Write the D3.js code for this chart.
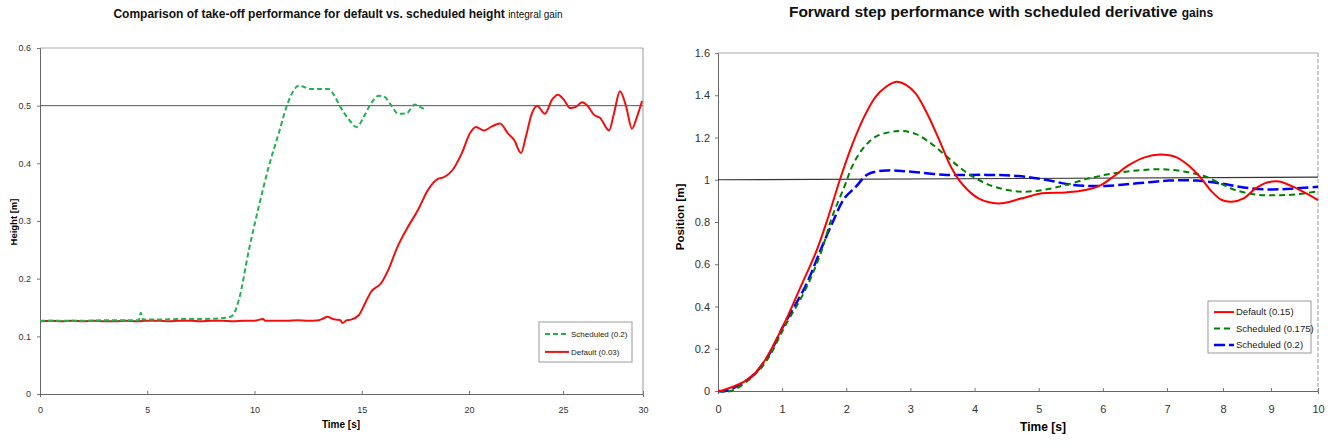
<!DOCTYPE html>
<html>
<head>
<meta charset="utf-8">
<script src="https://d3js.org/d3.v7.min.js"></script>
<style>
body { margin: 0; background: #fff; }
svg { font-family: "Liberation Sans", Arial, sans-serif; }
</style>
</head>
<body>
<svg id="chart" width="1331" height="444"></svg>
<script>
// ---- left chart data (time [s], height [m]) ----
const leftXTicks = [0, 5, 10, 15, 20, 25, 30];
const leftYTicks = [0, 0.1, 0.2, 0.3, 0.4, 0.5, 0.6];
const leftRef = [[0, 0.5], [30, 0.5]];
const leftNames = ["Scheduled (0.2)", "Default (0.03)"];

const schedLeft = [[0,0.127],[1,0.127],[2,0.127],[3,0.128],[4,0.128],[4.6,0.128],[4.7,0.141],[4.8,0.129],
  [5.5,0.129],[6.5,0.13],[7.5,0.13],[8.3,0.131],[8.8,0.133],[9.0,0.137],[9.27,0.163],[9.74,0.25],
  [10.2,0.325],[10.67,0.395],[11.13,0.452],[11.5,0.499],[11.8,0.525],[12.07,0.535],[12.6,0.529],
  [13.46,0.529],[13.74,0.516],[14.0,0.498],[14.4,0.476],[14.76,0.463],[15.1,0.481],[15.4,0.502],
  [15.8,0.517],[16.07,0.515],[16.4,0.499],[16.7,0.486],[17.1,0.487],[17.47,0.502],[17.7,0.498],[17.98,0.493]];

const defLeft = [[0,0.126],[0.5,0.127],[1,0.126],[1.5,0.127],[2,0.126],[2.5,0.127],[3,0.126],[3.5,0.126],
  [4,0.127],[4.5,0.126],[5,0.127],[5.5,0.127],[6,0.126],[6.5,0.127],[7,0.127],[7.5,0.126],[8,0.127],
  [8.5,0.127],[9,0.126],[9.5,0.127],[10,0.127],[10.4,0.13],[10.5,0.127],[11,0.127],[11.5,0.127],
  [12,0.128],[12.5,0.127],[13,0.128],[13.2,0.131],[13.4,0.134],[13.6,0.131],[13.8,0.129],[14.0,0.128],
  [14.1,0.123],[14.3,0.128],[14.5,0.129],[14.87,0.137],[15.15,0.157],[15.43,0.177],[15.9,0.192],
  [16.27,0.218],[16.64,0.253],[17.11,0.287],[17.62,0.319],[18.09,0.354],[18.55,0.373],[18.83,0.376],
  [19.3,0.392],[19.67,0.418],[20.05,0.452],[20.37,0.463],[20.8,0.457],[21.22,0.464],[21.65,0.469],
  [22.07,0.452],[22.39,0.441],[22.77,0.418],[23.03,0.447],[23.35,0.487],[23.62,0.5],[24.04,0.486],
  [24.41,0.51],[24.73,0.519],[25.06,0.51],[25.44,0.496],[25.81,0.498],[26.19,0.506],[26.56,0.499],
  [26.94,0.484],[27.31,0.479],[27.88,0.457],[28.19,0.487],[28.56,0.525],[28.94,0.499],[29.31,0.46],
  [29.63,0.481],[29.94,0.508]];

// ---- right chart data (time [s], position [m]) ----
const rightXTicks = [0, 1, 2, 3, 4, 5, 6, 7, 8, 9, 10];
const rightYTicks = [0, 0.2, 0.4, 0.6, 0.8, 1, 1.2, 1.4, 1.6];
const rightRef = [[0, 1], [10, 1.012]];
const rightNames = ["Default (0.15)", "Scheduled (0.175)", "Scheduled (0.2)"];

const defRight = [[0,0],[0.09,0.005],[0.49,0.06],[0.7,0.131],[1.01,0.305],[1.29,0.494],[1.54,0.667],
  [1.72,0.825],[1.9,1.0],[2.09,1.164],[2.28,1.299],[2.46,1.393],[2.62,1.44],[2.78,1.464],[2.93,1.449],
  [3.08,1.409],[3.26,1.314],[3.45,1.188],[3.63,1.062],[3.82,0.975],[4.06,0.912],[4.37,0.888],[4.74,0.912],
  [5.05,0.936],[5.42,0.94],[5.73,0.951],[5.97,0.975],[6.16,1.014],[6.41,1.07],[6.65,1.106],[6.9,1.119],
  [7.17,1.106],[7.41,1.062],[7.59,1.014],[7.8,0.944],[7.98,0.904],[8.18,0.896],[8.43,0.912],[8.68,0.959],
  [8.92,0.987],[9.17,0.992],[9.43,0.971],[9.68,0.944],[10,0.904]];

const sch175Right = [[0,0],[0.2,0],[0.49,0.055],[0.75,0.14],[1.04,0.305],[1.36,0.478],[1.6,0.651],[1.78,0.825],
  [1.97,0.967],[2.09,1.062],[2.24,1.14],[2.46,1.204],[2.83,1.231],[3.08,1.217],[3.32,1.172],[3.57,1.109],
  [3.82,1.046],[4.06,1.0],[4.31,0.967],[4.68,0.944],[5.05,0.951],[5.42,0.975],[5.79,1.007],[6.16,1.03],
  [6.53,1.044],[6.9,1.05],[7.3,1.039],[7.66,1.018],[7.95,0.983],[8.26,0.951],[8.68,0.93],[9.09,0.927],
  [9.51,0.93],[10,0.946]];

const sch2Right = [[0,0],[0.12,0],[0.49,0.06],[0.75,0.15],[1.04,0.32],[1.36,0.494],[1.6,0.667],[1.78,0.794],
  [1.97,0.912],[2.15,0.967],[2.34,1.027],[2.65,1.044],[2.96,1.039],[3.57,1.023],[4.19,1.023],[4.68,1.018],
  [5.11,1.0],[5.54,0.975],[6.03,0.971],[6.53,0.983],[7.03,0.996],[7.52,0.996],[7.95,0.983],[8.43,0.963],
  [9.0,0.954],[9.51,0.959],[10,0.967]];

const svg = d3.select("#chart");

// scales (the source picture is squeezed near the right end of each axis)
const xL = d3.scaleLinear().domain([0, 20, 25, 30]).range([40, 469, 563, 643]);
const yL = d3.scaleLinear().domain([0, 0.6]).range([394, 48]);
const xR = d3.scaleLinear().domain([0, 7, 8, 9, 10]).range([718, 1167, 1223, 1271, 1318]);
const yR = d3.scaleLinear().domain([0, 1.6]).range([391, 53]);

function frame(x, y, dashRight) {
  const [x0, x1] = [x.range()[0], x.range()[x.range().length - 1]];
  const [y0, y1] = y.range();
  svg.append("line").attr("x1", x0).attr("x2", x1).attr("y1", y1).attr("y2", y1)
    .attr("stroke", "#aaa").attr("stroke-width", 1);
  svg.append("line").attr("x1", x1).attr("x2", x1).attr("y1", y1).attr("y2", y0)
    .attr("stroke", "#999").attr("stroke-width", 1)
    .attr("stroke-dasharray", dashRight ? "4,2" : null);
}

frame(xL, yL, false);
frame(xR, yR, true);

// axes
function axes(x, y, xt, yt, fs, fmt) {
  const gx = svg.append("g").attr("transform", `translate(0,${y.range()[0]})`)
    .call(d3.axisBottom(x).tickValues(xt).tickSize(3).tickPadding(fs > 10 ? 11 : 10));
  const gy = svg.append("g").attr("transform", `translate(${x.range()[0]},0)`)
    .call(d3.axisLeft(y).tickValues(yt).tickSize(3).tickPadding(fs > 10 ? 5 : 6).tickFormat(fmt));
  for (const g of [gx, gy]) {
    g.selectAll("text").attr("font-size", fs + "px").attr("fill", "#333")
      .attr("font-family", "'Liberation Sans', Arial, sans-serif");
    g.selectAll("line").attr("stroke", "#777");
    g.select(".domain").attr("stroke", "#666");
  }
  gx.selectAll(".tick line").attr("y2", -3);
}
axes(xL, yL, leftXTicks, leftYTicks, 9, d => d3.format("~g")(d));
axes(xR, yR, rightXTicks, rightYTicks, 11, d => d3.format("~g")(d));

// reference lines
const line = (x, y) => d3.line().x(d => x(d[0])).y(d => y(d[1]));
svg.append("path").datum(leftRef).attr("d", line(xL, yL))
  .attr("fill", "none").attr("stroke", "#555").attr("stroke-width", 1);
svg.append("path").datum(rightRef).attr("d", line(xR, yR))
  .attr("fill", "none").attr("stroke", "#333").attr("stroke-width", 1.2);

// left series
svg.append("path").datum(defLeft).attr("d", line(xL, yL).curve(d3.curveMonotoneX))
  .attr("fill", "none").attr("stroke", "#f01010").attr("stroke-width", 2);
svg.append("path").datum(schedLeft).attr("d", line(xL, yL).curve(d3.curveMonotoneX))
  .attr("fill", "none").attr("stroke", "#22b050").attr("stroke-width", 2)
  .attr("stroke-dasharray", "5,3");

// right series
const smooth = (x, y) => line(x, y).curve(d3.curveCatmullRom.alpha(0.5));
svg.append("path").datum(sch2Right).attr("d", smooth(xR, yR))
  .attr("fill", "none").attr("stroke", "#0000ff").attr("stroke-width", 2.5)
  .attr("stroke-dasharray", "11,4");
svg.append("path").datum(sch175Right).attr("d", smooth(xR, yR))
  .attr("fill", "none").attr("stroke", "#008000").attr("stroke-width", 2)
  .attr("stroke-dasharray", "6,4");
svg.append("path").datum(defRight).attr("d", smooth(xR, yR))
  .attr("fill", "none").attr("stroke", "#ff0000").attr("stroke-width", 2);

// titles
const t1 = svg.append("text").attr("x", 338).attr("y", 18).attr("text-anchor", "middle")
  .attr("font-size", "12px").attr("font-weight", "bold").attr("fill", "#111");
t1.append("tspan").text("Comparison of take-off performance for default vs. scheduled height ");
t1.append("tspan").attr("font-weight", "normal").attr("font-size", "10px").text("integral gain");

const t2 = svg.append("text").attr("x", 1001).attr("y", 17).attr("text-anchor", "middle")
  .attr("font-size", "15.5px").attr("font-weight", "bold").attr("fill", "#111");
t2.append("tspan").text("Forward step performance with scheduled derivative ");
t2.append("tspan").attr("font-size", "12px").text("gains");

// axis titles
svg.append("text").attr("x", 341).attr("y", 428).attr("text-anchor", "middle")
  .attr("font-size", "10px").attr("font-weight", "bold").text("Time [s]");
svg.append("text").attr("transform", "translate(17,222) rotate(-90)").attr("text-anchor", "middle")
  .attr("font-size", "9.5px").attr("font-weight", "bold").text("Height [m]");
svg.append("text").attr("x", 1043).attr("y", 431).attr("text-anchor", "middle")
  .attr("font-size", "12px").attr("font-weight", "bold").text("Time [s]");
svg.append("text").attr("transform", "translate(684,217) rotate(-90)").attr("text-anchor", "middle")
  .attr("font-size", "11.5px").attr("font-weight", "bold").text("Position [m]");

// legends
function legend(x, y, w, h, items, fs, rowH, lineW) {
  const g = svg.append("g").attr("transform", `translate(${x},${y})`);
  g.append("rect").attr("width", w).attr("height", h).attr("fill", "#fff")
    .attr("stroke", "#999").attr("stroke-width", 1);
  items.forEach((it, i) => {
    const cy = rowH * 0.55 + i * rowH + 2;
    g.append("line").attr("x1", 6).attr("x2", 6 + lineW).attr("y1", cy).attr("y2", cy)
      .attr("stroke", it.color).attr("stroke-width", it.width).attr("stroke-dasharray", it.dash);
    g.append("text").attr("x", 8 + lineW).attr("y", cy).attr("dy", "0.35em")
      .attr("font-size", fs + "px").attr("fill", "#222").text(it.name);
  });
}
legend(539, 322, 93, 40, [
  {name: leftNames[0], color: "#22b050", width: 2, dash: "5,3"},
  {name: leftNames[1], color: "#f01010", width: 2, dash: null}
], 8, 18, 24);
legend(1208, 301, 103, 52, [
  {name: rightNames[0], color: "#ff0000", width: 2, dash: null},
  {name: rightNames[1], color: "#008000", width: 2, dash: "6,4"},
  {name: rightNames[2], color: "#0000ff", width: 2.5, dash: "11,4"}
], 9.5, 16.5, 20);
</script>
</body>
</html>
